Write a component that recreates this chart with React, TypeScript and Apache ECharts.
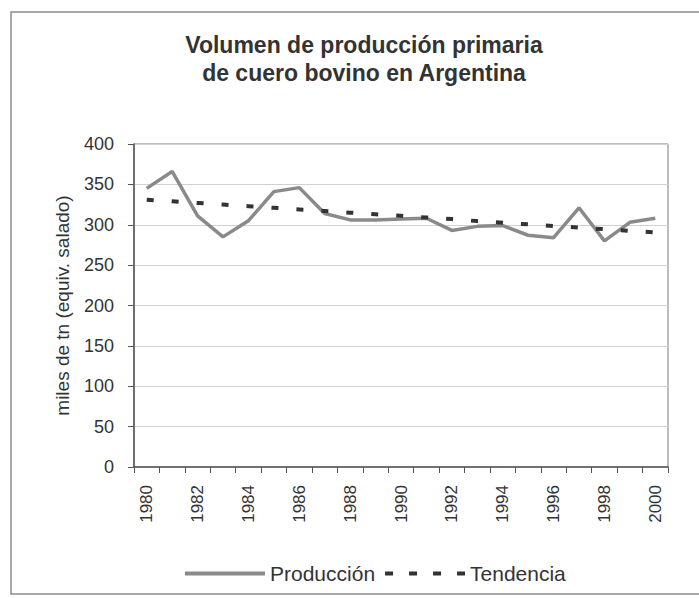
import React, { useEffect, useRef } from "react";
import * as echarts from "echarts";

const years = ["1980","1981","1982","1983","1984","1985","1986","1987","1988","1989","1990","1991","1992","1993","1994","1995","1996","1997","1998","1999","2000"];
const produccion = [345, 366, 311, 285, 305, 341, 346, 314, 306, 306, 307, 308, 293, 298, 299, 287, 284, 321, 280, 303, 308];
const tendencia = [331, 329, 327, 325, 323, 321, 319, 317, 315, 313, 311, 309, 307, 304.5, 302.5, 300.5, 298.5, 296.5, 294.5, 292.5, 290.5];
const titleLines = ["Volumen de producción primaria", "de cuero bovino en Argentina"];
const yAxisName = "miles de tn (equiv. salado)";

const FONT = "'Liberation Sans', Arial, sans-serif";
const SOLID_ICON = "path://M0,0H80V4H0Z";
const DASH_ICON = "path://M0,0H8V4H0Z M24,0H32V4H24Z M48,0H56V4H48Z M72,0H80V4H72Z";

export default function App() {
  const ref = useRef<HTMLDivElement>(null);
  useEffect(() => {
    if (!ref.current) return;
    const chart = echarts.init(ref.current, null, { renderer: "svg" });
    chart.setOption({
      animation: false,
      backgroundColor: "#ffffff",
      textStyle: { fontFamily: FONT },
      title: {
        text: titleLines.join("\n"),
        left: 359,
        top: 26,
        textAlign: "center",
        textStyle: { fontFamily: FONT, fontSize: 23, fontWeight: "bold", color: "#333", lineHeight: 28 },
      },
      graphic: [
        {
          type: "rect",
          shape: { x: 11, y: 12, width: 700, height: 582 },
          style: { fill: "none", stroke: "#8c8c8c", lineWidth: 1.5 },
          silent: true,
        },
      ],
      legend: {
        top: 558,
        left: 180,
        itemWidth: 80,
        itemHeight: 4,
        itemGap: 10,
        textStyle: { fontFamily: FONT, fontSize: 21, color: "#333" },
        data: [
          { name: "Producción", icon: SOLID_ICON, itemStyle: { color: "#8a8a8a" } },
          { name: "Tendencia", icon: DASH_ICON, itemStyle: { color: "#333333" } },
        ],
      },
      grid: {
        left: 134,
        right: 31,
        top: 144,
        bottom: 131,
        show: true,
        borderColor: "#7a7a7a",
        borderWidth: 1,
      },
      xAxis: {
        type: "category",
        data: years,
        boundaryGap: true,
        axisLine: { lineStyle: { color: "#555", width: 1.5 } },
        axisTick: { show: true, interval: 0, length: 6, lineStyle: { color: "#555" } },
        axisLabel: { interval: 1, rotate: 90, margin: 18, fontSize: 17, color: "#333", fontFamily: FONT },
      },
      yAxis: {
        type: "value",
        min: 0,
        max: 400,
        interval: 50,
        name: yAxisName,
        nameLocation: "middle",
        nameRotate: 90,
        nameGap: 62,
        nameTextStyle: { fontFamily: FONT, fontSize: 19, color: "#333" },
        axisLine: { show: true, lineStyle: { color: "#555", width: 1.5 } },
        axisTick: { show: true, length: 6, lineStyle: { color: "#555" } },
        axisLabel: { margin: 20, fontSize: 18, color: "#333", fontFamily: FONT },
        splitLine: { lineStyle: { color: "#d0d0d0", width: 1 } },
      },
      series: [
        {
          name: "Producción",
          type: "line",
          data: produccion,
          symbol: "none",
          lineStyle: { color: "#8a8a8a", width: 3.5 },
          itemStyle: { color: "#8a8a8a" },
        },
        {
          name: "Tendencia",
          type: "line",
          data: tendencia,
          symbol: "none",
          lineStyle: { color: "#333333", width: 4, type: [7, 18] },
          itemStyle: { color: "#333333" },
        },
      ],
    });
    return () => chart.dispose();
  }, []);
  return <div ref={ref} style={{ width: 699, height: 598, position: "absolute", left: 0, top: 0 }} />;
}
